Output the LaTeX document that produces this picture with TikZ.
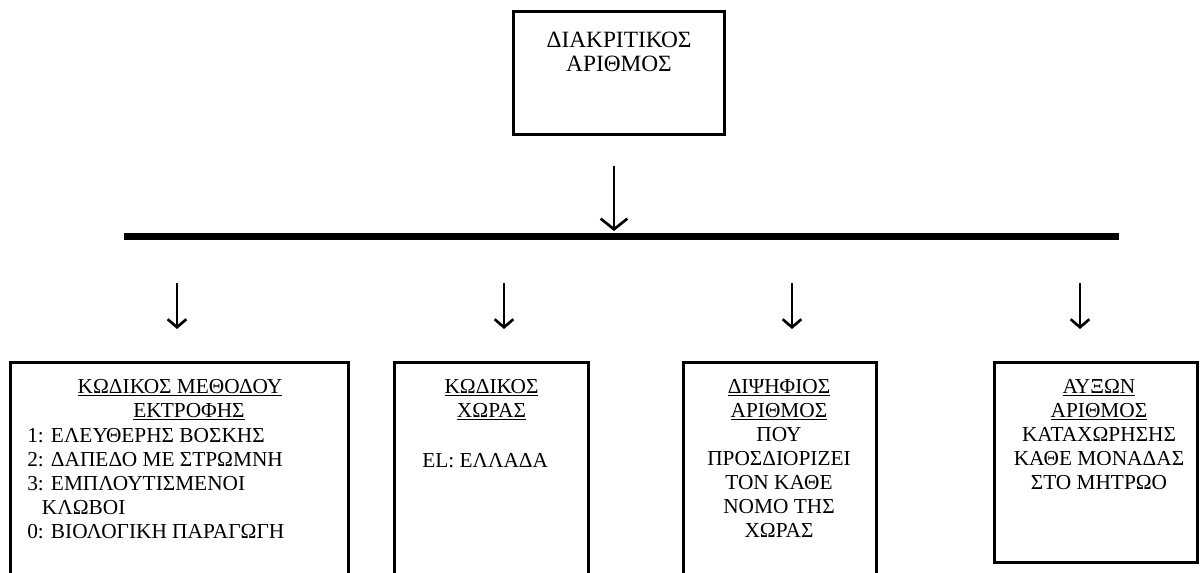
\documentclass[tikz,border=0pt]{standalone}
\usepackage{fontspec}
\setmainfont{Liberation Serif}
\usetikzlibrary{arrows.meta,fit}
\tikzset{
  box/.style={draw=black, line width=2.25pt, inner sep=0pt, fill=none},
  txt/.style={font=\fontsize{16pt}{18pt}\selectfont, inner sep=0pt, anchor=north},
  toptxt/.style={font=\fontsize{17.5pt}{17.5pt}\selectfont, inner sep=0pt, anchor=north},
  bar/.style={line width=5.25pt},
  bigarrow/.style={line width=1.6pt, -{Straight Barb[length=8pt,width=20pt,line width=2pt]}},
  smallarrow/.style={line width=1.6pt, -{Straight Barb[length=6pt,width=14pt,line width=2pt]}}
}
\begin{document}
\begin{tikzpicture}[x=0.75pt,y=-0.75pt]
\path[use as bounding box] (0,0) rectangle (1200,573);
\clip (0,0) rectangle (1200,573);
\fill[white] (0,0) rectangle (1200,573);

% top box
\coordinate (topNW) at (513,12);
\coordinate (topSE) at (724,135);
\node[box, fit=(topNW)(topSE)] (top) {};
\node[toptxt, align=center] (topT) at (619,32) {ΔΙΑΚΡΙΤΙΚΟΣ\\ΑΡΙΘΜΟΣ};

% central arrow and bar
\coordinate (ca1) at (614,166);
\coordinate (ca2) at (614,231);
\draw[bigarrow] (ca1) -- (ca2);
\coordinate (barL) at (124,236.5);
\coordinate (barR) at (1119,236.5);
\draw[bar] (barL) -- (barR);

% small arrows
\foreach \n/\x in {1/177,2/504,3/792,4/1080}{
  \coordinate (s\n a) at (\x,283);
  \coordinate (s\n b) at (\x,329);
  \draw[smallarrow] (s\n a) -- (s\n b);
}

% bottom boxes
\coordinate (b1NW) at (10,363);  \coordinate (b1SE) at (348,610);
\coordinate (b2NW) at (394,363); \coordinate (b2SE) at (588,610);
\coordinate (b3NW) at (683,363); \coordinate (b3SE) at (876,610);
\coordinate (b4NW) at (994,363); \coordinate (b4SE) at (1197.5,562);
\node[box, fit=(b1NW)(b1SE)] (b1) {};
\node[box, fit=(b2NW)(b2SE)] (b2) {};
\node[box, fit=(b3NW)(b3SE)] (b3) {};
\node[box, fit=(b4NW)(b4SE)] (b4) {};

% box 1 text
\node[txt, align=center] (b1h) at (180,379) {\underline{ΚΩΔΙΚΟΣ ΜΕΘΟΔΟΥ}\\\hspace*{13.5pt}\underline{ΕΚΤΡΟΦΗΣ}};
\node[txt, anchor=north west, align=left] (b1l) at (27,428) {1: ΕΛΕΥΘΕΡΗΣ ΒΟΣΚΗΣ\\2: ΔΑΠΕΔΟ ΜΕ ΣΤΡΩΜΝΗ\\3: ΕΜΠΛΟΥΤΙΣΜΕΝΟΙ\\\hspace*{11pt}ΚΛΩΒΟΙ\\0: ΒΙΟΛΟΓΙΚΗ ΠΑΡΑΓΩΓΗ};

% box 2 text
\node[txt, align=center] (b2h) at (491.5,379) {\underline{ΚΩΔΙΚΟΣ}\\\underline{ΧΩΡΑΣ}};
\node[txt, anchor=north west] (b2l) at (422,453) {EL: ΕΛΛΑΔΑ};

% box 3 text
\node[txt, align=center] (b3t) at (779,379) {\underline{ΔΙΨΗΦΙΟΣ}\\\underline{ΑΡΙΘΜΟΣ}\\ΠΟΥ\\ΠΡΟΣΔΙΟΡΙΖΕΙ\\ΤΟΝ ΚΑΘΕ\\ΝΟΜΟ ΤΗΣ\\ΧΩΡΑΣ};

% box 4 text
\node[txt, align=center] (b4t) at (1099,379) {\underline{ΑΥΞΩΝ}\\\underline{ΑΡΙΘΜΟΣ}\\ΚΑΤΑΧΩΡΗΣΗΣ\\ΚΑΘΕ ΜΟΝΑΔΑΣ\\ΣΤΟ ΜΗΤΡΩΟ};
\end{tikzpicture}
\end{document}
